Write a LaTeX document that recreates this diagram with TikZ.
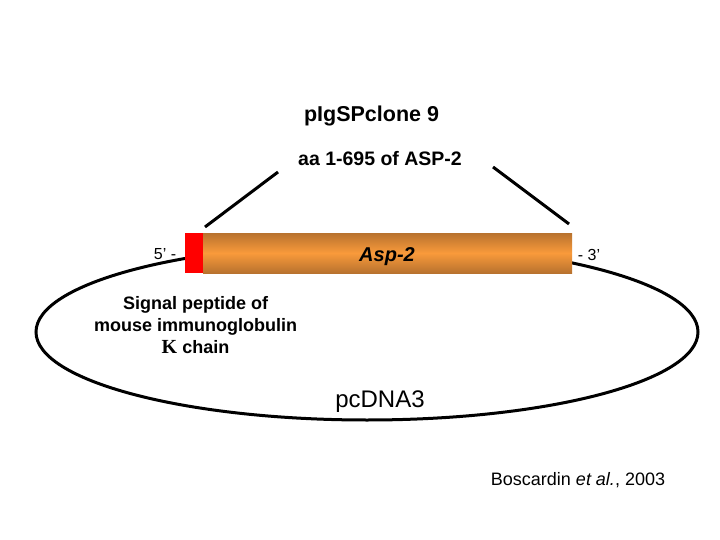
\documentclass[tikz,border=0pt]{standalone}
\usepackage{fontspec}
\setmainfont{Liberation Sans}
\newfontfamily\serifK{Liberation Serif}
\definecolor{barDark}{HTML}{B8722E}
\definecolor{barLight}{HTML}{F99A3B}
\definecolor{sigRed}{HTML}{FF0000}
\begin{document}
\begin{tikzpicture}[x=1pt,y=-1pt,
  thickline/.style={line width=3pt, black},
  lbl/.style={anchor=base, inner sep=0pt, font=\fontsize{#1}{#1}\selectfont},
  blbl/.style={anchor=base, inner sep=0pt, font=\fontsize{#1}{#1}\selectfont\bfseries}]
\useasboundingbox[fill=white] (0,0) rectangle (720,540);
% plasmid
\draw[thickline] (367,332) ellipse [x radius=331, y radius=88];
% insert bar
\node[shade, top color=barDark, bottom color=barDark, middle color=barLight,
      minimum width=369pt, minimum height=40pt, inner sep=0pt] (bar) at (387.5,253) {};
\node[fill=sigRed, minimum width=18pt, minimum height=40pt, inner sep=0pt] (sig) at (194,253) {};
\node[anchor=base, inner sep=0pt, font=\fontsize{20}{20}\selectfont\bfseries\itshape] (asp) at (387,261) {Asp-2};
\node[lbl=16] (five) at (165,259) {5’ -};
\node[lbl=16] (three) at (589,260) {- 3’};
% titles
\node[blbl=21.5] (title) at (371.5,122) {pIgSPclone 9};
\node[blbl=19.5] (aa) at (380,166) {aa 1-695 of ASP-2};
% lines
\coordinate (l1) at (205,227);
\coordinate (l2) at (278,172);
\coordinate (r1) at (493,167);
\coordinate (r2) at (569,224);
\draw[thickline] (l1) -- (l2);
\draw[thickline] (r1) -- (r2);
% signal peptide label
\node[blbl=18] (s1) at (195.5,309) {Signal peptide of};
\node[blbl=18] (s2) at (195.5,331) {mouse immunoglobulin};
\node[blbl=18] (s3) at (195.5,353) {{\serifK\fontsize{20}{20}\selectfont Κ} chain};
% plasmid name
\node[lbl=24] (pc) at (380,407) {pcDNA3};
% citation
\node[lbl=18] (cite) at (578,485) {Boscardin \textit{et al.}, 2003};
\end{tikzpicture}
\end{document}
